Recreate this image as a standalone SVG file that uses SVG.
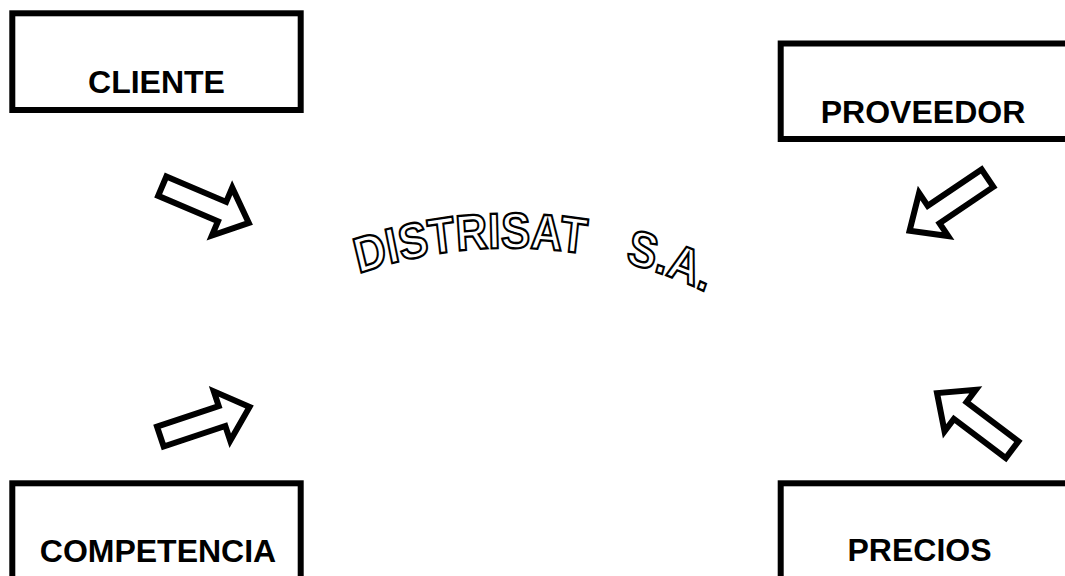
<svg xmlns="http://www.w3.org/2000/svg" width="1065" height="576" viewBox="0 0 1065 576">
  <style>
    .box { fill: #ffffff; stroke: #000000; stroke-width: 6; }
    .lbl { font-family: "Liberation Sans", Arial, sans-serif; font-weight: bold; font-size: 32px; fill: #000000; text-anchor: middle; }
    .arrow { fill: #ffffff; stroke: #000000; stroke-width: 6; stroke-linejoin: miter; stroke-miterlimit: 10; }
    .title { font-family: "Liberation Sans", Arial, sans-serif; font-weight: bold; font-size: 44px; fill: #ffffff; stroke: #000000; stroke-width: 2; stroke-linejoin: miter; }
  </style>
  <defs>
    <path id="blockArrow" d="M3,-10.5 L68,-10.5 L68,-26 L97,0 L68,26 L68,10.5 L3,10.5 Z"/>
    <path id="arc" d="M216.2,311.3 A457,400.9 0 0 1 803.8,311.3"/>
  </defs>
  <rect width="1065" height="576" fill="#ffffff"/>

  <g id="cliente">
    <rect class="box" x="12.3" y="13.3" width="288.4" height="96.7"/>
    <text class="lbl" x="156.5" y="93.3">CLIENTE</text>
  </g>
  <g id="proveedor">
    <rect class="box" x="780.7" y="43.5" width="300" height="95.5"/>
    <text class="lbl" x="923" y="123.3">PROVEEDOR</text>
  </g>
  <g id="competencia">
    <rect class="box" x="12.3" y="483.3" width="288.4" height="110"/>
    <text class="lbl" x="158" y="561.5">COMPETENCIA</text>
  </g>
  <g id="precios">
    <rect class="box" x="780.7" y="483.3" width="300" height="110"/>
    <text class="lbl" x="919.5" y="561">PRECIOS</text>
  </g>

  <g id="distrisat">
    <g transform="scale(1,1.14)">
      <text class="title"><textPath href="#arc" startOffset="160">DISTRISAT<tspan dx="28"> S.A.</tspan></textPath></text>
    </g>
  </g>

  <g id="connectors">
    <use href="#blockArrow" class="arrow" transform="translate(159.5,185) rotate(23)"/>
    <use href="#blockArrow" class="arrow" transform="translate(990,176.5) rotate(146)"/>
    <use href="#blockArrow" class="arrow" transform="translate(157.5,437.5) rotate(-18.4)"/>
    <use href="#blockArrow" class="arrow" transform="translate(1014.5,451.5) rotate(-143)"/>
  </g>
</svg>
